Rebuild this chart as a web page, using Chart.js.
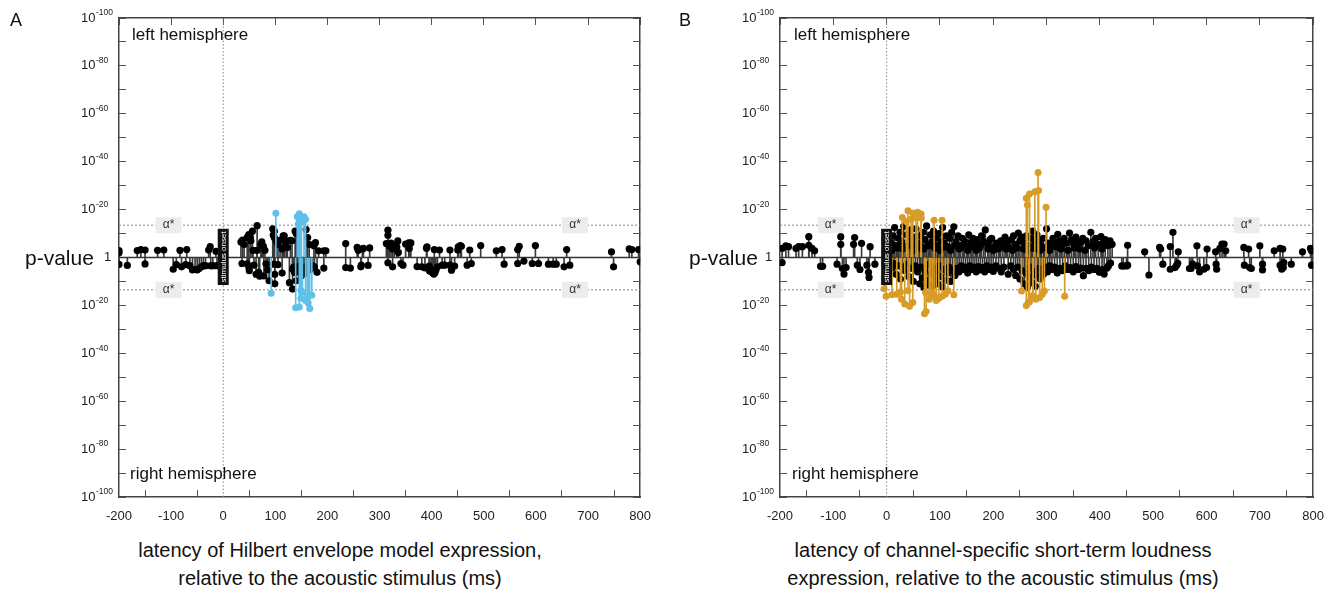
<!DOCTYPE html>
<html>
<head>
<meta charset="utf-8">
<script src="https://cdn.jsdelivr.net/npm/chart.js@4.4.1/dist/chart.umd.min.js"></script>
<style>
  body { margin: 0; background: #fff; font-family: "Liberation Sans", Arial, sans-serif; }
  #wrap { position: relative; width: 1343px; height: 596px; overflow: hidden; }
  canvas { position: absolute; top: 0; }
  .t { position: absolute; color: #111; white-space: nowrap; line-height: 1; }
  .c { transform: translateX(-50%); text-align: center; }
</style>
</head>
<body>
<div id="wrap">
  <canvas id="chartA" width="670" height="530" style="left:0px"></canvas>
  <canvas id="chartB" width="673" height="530" style="left:670px"></canvas>

  <div class="t" style="left:10px;top:11px;font-size:18px">A</div>
  <div class="t" style="left:679px;top:11px;font-size:18px">B</div>

  <div class="t" style="left:132px;top:26px;font-size:17px">left hemisphere</div>
  <div class="t" style="left:130px;top:465px;font-size:17px">right hemisphere</div>
  <div class="t" style="left:794px;top:26px;font-size:17px">left hemisphere</div>
  <div class="t" style="left:792px;top:465px;font-size:17px">right hemisphere</div>

  <div class="t" style="left:25px;top:247px;font-size:21px">p-value</div>
  <div class="t" style="left:689px;top:247px;font-size:21px">p-value</div>

  <div class="t c" style="left:340px;top:540px;font-size:20px">latency of Hilbert envelope model expression,</div>
  <div class="t c" style="left:340px;top:568px;font-size:20px">relative to the acoustic stimulus (ms)</div>
  <div class="t c" style="left:1003px;top:540px;font-size:20px">latency of channel-specific short-term loudness</div>
  <div class="t c" style="left:1003px;top:568px;font-size:20px">expression, relative to the acoustic stimulus (ms)</div>
</div>

<script>
const FONT = '"Liberation Sans", Arial, sans-serif';

// axes: latency in ms, signed -log10(p) (positive = left hemisphere, negative = right)
const X_MIN = -200, X_MAX = 800, Y_LIM = 100;
const ALPHA = 13.5;                 // corrected significance threshold
const ALPHA_LABEL_MS = [-105, 675];
const ONSET_BOX = [-11.5, 12];

// ---- panel A: Hilbert envelope model ----
const aLat = [
  -200,-200,-200,-184,-165,-158,-150,-150,-126,-114,
  -96,-90,-83,-80,-72,-70,-64,-59,-54,-50,
  -46,-42,-38,-34,-28,-25,-24,-20,-14,-12,
  34,37,40,46,49,52,53,56,57,65,
  65,72,74,75,77,80,95,96,98,98,
  102,105,109,113,115,117,118,121,123,129,
  132,138,140,159,162,165,174,177,183,193,
  197,36,46,49,50,59,63,68,70,78,
  82,85,88,97,99,99,105,113,127,133,
  133,135,137,140,143,145,147,150,152,156,
  158,160,163,168,170,175,180,193,138,142,
  148,154,166,172,235,235,244,257,259,264,
  265,267,269,278,281,313,316,316,316,319,
  322,325,325,328,333,335,336,341,345,350,
  356,357,360,372,381,387,390,391,395,396,
  399,402,404,405,408,411,415,420,425,435,
  435,438,444,450,451,455,457,468,473,476,
  494,524,535,539,565,568,565,577,593,599,
  605,624,633,639,654,659,665,745,749,779,
  784,797,800,400,403,406
];
const aLogP = [
  2.9,2,-2.9,-3.3,2.9,3.3,3.1,-2.7,3,3.1,
  -4.9,-3,3,-3.9,-3,3.3,-3.4,-5.2,-5,-5.2,
  -4.6,-3.9,-3.4,-3.4,3.1,4.5,-3.4,-3.4,2.6,-3.4,
  6.5,7.3,5.4,8.4,9.6,8.4,7,11,3,13.3,
  3,5.5,6.5,5,4.7,3,12,9.4,11,8.3,
  6.9,5.5,7.2,3.5,9,9,4.7,6.9,4.2,7.2,
  7,11,10,11.7,8.3,5.5,4.9,6.2,2.8,2.8,
  2.8,-2.5,-2.6,-4,-5.5,-3.2,-7,-6.2,-7.8,-7.7,
  -2.6,-5.2,-9.7,-2.8,-11,-7,-3,-6.5,-10.5,-4.9,
  -13.2,-4,-6.3,-9.7,-6,-3.8,-4.9,-7.6,-4.2,-5.5,
  -4,-6.5,-3.6,-4.2,-4.5,-4,-6.2,-4.4,-4.5,-5,
  -3.5,-4.8,-5,-3.5,5.8,-4.2,-4.4,4.2,3,-3.9,
  -3.2,3.6,3.8,-3.3,4,5.8,11.4,9.3,-2.2,4.7,
  6,3.6,-3.9,5,4.4,6.9,2.1,-2.5,-3.2,5.6,
  6.1,3.8,6.1,-3.8,-3.9,-4.3,3.9,4.4,-3.6,-5.6,
  -5,-6.4,-6.9,3.3,-5.3,-3.9,3.1,-3.2,-3.2,3.1,
  -3.2,-5.3,-3.6,3.1,4.4,5,4.7,-3.2,3.1,-2.5,
  5,2.8,3.3,-2.8,3.3,4.7,-2.5,-1.5,-2.5,5,
  -2.5,-2.8,-2.8,-2.8,-3.9,3.3,-3.2,2.4,-3.9,3.6,
  3.3,3.3,-1.8,-6,-5.5,-6.5
];
const aSigLat = [
  92,101,139,142,144,145,146,146,148,149,
  149,150,152,155,158,158,161,163,166,170
];
const aSigLogP = [
  -14.9,18.5,-21,17,14,17.6,18.3,-20.7,16,-17,
  -13.8,14.7,-14.5,17,16,-18,-16.5,-19,-21.3,-15.8
];

// ---- panel B: channel-specific short-term loudness ----
const bLat = [
  -196,-196,-189,-184,-170,-165,-158,-146,-146,-140,
  -135,-124,-120,-93,-86,-86,-83,-80,-76,-62,
  -60,-55,-50,-47,-37,-34,-33,-31,-22,-3,
  // left hemisphere
  8,12,15,18,22,25,28,32,35,38,
  42,45,48,52,55,58,62,65,68,72,
  75,78,82,85,88,92,95,98,102,105,
  108,112,115,118,122,126,130,134,138,142,
  146,150,154,158,162,166,170,174,178,182,
  185,190,194,197,202,206,210,214,218,222,
  226,230,234,238,242,247,250,254,258,262,
  266,270,274,278,282,286,290,294,300,304,
  308,312,316,321,325,329,333,337,343,347,
  351,355,359,364,368,374,378,383,387,392,
  397,402,406,410,415,419,423,452,484,512,
  514,532,537,547,582,601,617,625,629,633,
  636,670,679,700,727,738,743,780,795,797,
  10,20,30,40,50,60,70,80,90,100,
  110,120,128,136,144,152,160,168,176,190,
  200,212,224,236,244,256,264,272,280,288,
  296,306,318,327,340,352,362,372,390,404,
  // right hemisphere
  5,10,14,18,22,26,30,34,38,42,
  46,50,54,58,62,64,67,70,72,75,
  78,80,83,86,88,91,94,96,99,102,
  105,108,111,114,117,120,124,128,132,136,
  140,144,148,152,156,160,164,168,172,176,
  180,184,188,192,196,200,205,210,215,220,
  228,233,238,242,246,250,254,258,261,264,
  267,270,273,276,279,282,285,288,291,294,
  298,302,306,310,315,320,325,330,335,340,
  345,350,355,360,364,369,374,379,384,389,
  394,399,404,408,413,416,420,441,444,450,
  452,492,518,532,541,544,546,568,571,574,
  583,587,595,600,618,619,671,681,684,705,
  705,738,741,744,745,759,797,798
];
const bLogP = [
  3.8,-2.1,4.9,4.5,3.8,4.5,4.5,8.7,5.1,3.8,
  2.8,-3.7,-3.7,-2.8,8.7,5.5,-4.6,-6.9,-4.2,5.5,
  8.3,-3.2,-5,5.9,-3.2,-6.2,-8.3,4.5,-2.8,7.6,
  // left hemisphere
  6,9,12.5,5,8,10.5,6.5,13,4.5,9.5,
  7,11.5,5.5,8.5,12,6,9,4.5,10.5,7.5,
  13.2,5.5,9.5,6.5,11,8,5,10,7,12.5,
  6,9,4.5,8,10.5,12.8,6.5,9,5,8,
  7,4.5,9.5,6,8,5.5,7.5,4,9,6.5,
  11.5,5,7.5,8,4.5,6,3.5,7,5,8.5,
  6,4,7.5,9,5.5,10.2,7,8.5,6,9,
  5,8,11,6.5,9.5,7,5,8,12,6,
  4.5,8,6.5,9.7,7,5,8,6,10.2,7.5,
  5.5,8.5,6,6.3,8,7,5,10.5,6.5,8,
  5.5,8.7,6,7.5,5,7,5.5,5.1,2.4,4.2,
  3.5,4.6,10.5,2.4,4.9,3.5,2.4,3.8,5.6,5.6,
  2.8,4.2,3.5,4.9,2.8,3.8,3.5,2.4,3.8,2.8,
  3,4,3.5,5,3,4,3.5,5,4,3,
  4.5,3,5,3.5,4.5,3,4.5,3,5,3.5,
  3,4.5,3.5,3,4,3.5,3,4,3.5,3,
  4,3,4.5,3.5,3,4,3.5,3,4,3.5,
  // right hemisphere
  -3,-4.5,-2.5,-7,-3.5,-9,-4,-5.5,-2.8,-8,
  -4.5,-10,-3.5,-6,-11,-4,-8.5,-12.5,-5.5,-9.5,
  -3,-11.5,-7,-12,-4.5,-9,-6,-11,-3.5,-8,
  -12.3,-5,-9.5,-6.5,-4,-10,-5.5,-7.5,-4.5,-6,
  -3.5,-5,-4,-6.5,-3.5,-5,-4,-6,-3.8,-5.2,
  -4.2,-6,-3.5,-5,-4,-5.8,-3.5,-4.5,-6,-4,
  -7,-3.5,-5,-7.5,-4,-9,-5.5,-11,-6.5,-12.5,
  -8,-4,-10.5,-6,-12,-7.5,-4.5,-9,-5.5,-7,
  -4,-6,-3.5,-5,-4,-6.5,-4.5,-5.5,-3.5,-5,
  -4.2,-6,-3.8,-5,-4.4,-7.6,-4.5,-5.5,-4,-5,
  -4.5,-6.2,-5,-6.9,-4.5,-3.5,-2.3,-3.5,-3.6,-3.5,
  -3.2,-7.3,-2.8,-4.9,-4.2,-3.2,-2.4,-4.6,-4.6,-2.8,
  -3.5,-6,-4.9,-4.2,-2.8,-4.9,-3.2,-4.2,-4.6,-2.8,
  -5.2,-3.2,-4.9,-4.2,-2.1,-2.8,-3.2,-3.2
];
const bSigLat = [
  29.5,37,40,46,49,55,58,64.5,65,89,
  104,262,264,268,278,284,285,299,
  -4.6,-1,10,19,26,28,34,40,43,49,
  71,73,74,80,83,86,89,93,98,104,
  110,115,126,253,262,266,268,274,275,280,
  287,292,296,334
];
const bSigLogP = [
  16.7,15,19.5,16,18.6,16.7,18.9,18.2,16.5,15.6,
  15.6,24.7,21.9,26.5,27.5,35.5,28,21,
  -13.1,-16.2,-15.6,-15.3,-14.4,-17.4,-19.4,-13.9,-20.4,-18.8,
  -23.5,-14.6,-22.5,-17.4,-15.3,-16,-15.3,-18,-17,-16.2,
  -15.3,-13.9,-15.6,-14,-20,-18.7,-18.5,-16,-16.3,-17.4,
  -16.7,-15.3,-14,-16.2
];

const pts = (lat, val) => lat.map((x, i) => ({x: x, y: val[i]}));

// y tick labels 10^-n with a real superscript, left aligned as in the figure
const expLabels = {
  id: 'expLabels',
  afterDraw(chart) {
    const {ctx} = chart, y = chart.scales.y;
    const left = y.right - 38;
    ctx.save();
    ctx.fillStyle = '#222';
    ctx.textBaseline = 'middle';
    ctx.textAlign = 'left';
    y.ticks.forEach(t => {
      const v = t.value;
      if (v % 20 !== 0) return;
      const py = y.getPixelForValue(v);
      ctx.font = '13px ' + FONT;
      if (v === 0) { ctx.fillText('1', y.right - 15, py); return; }
      ctx.fillText('10', left, py);
      const w = ctx.measureText('10').width;
      ctx.font = '8.5px ' + FONT;
      ctx.fillText('-' + Math.abs(v), left + w + 0.5, py - 5);
    });
    ctx.restore();
  }
};

// alpha* tags and the stimulus-onset marker, placed through the chart scales
const annotations = {
  id: 'annotations',
  afterDatasetsDraw(chart) {
    const {ctx, scales: {x, y}} = chart;
    ctx.save();
    ctx.textAlign = 'center';
    ctx.textBaseline = 'middle';
    ctx.font = '12px ' + FONT;
    ALPHA_LABEL_MS.forEach(ms => [ALPHA, -ALPHA].forEach(v => {
      const px = x.getPixelForValue(ms), py = y.getPixelForValue(v);
      ctx.fillStyle = '#ececec';
      ctx.fillRect(px - 13, py - 8, 26, 16);
      ctx.fillStyle = '#333';
      ctx.fillText('\u03b1*', px, py);
    }));
    const x0 = x.getPixelForValue(0);
    const yt = y.getPixelForValue(ONSET_BOX[1]), yb = y.getPixelForValue(ONSET_BOX[0]);
    ctx.fillStyle = '#111';
    ctx.fillRect(x0 - 5.5, yt, 11, yb - yt);
    ctx.translate(x0, (yt + yb) / 2);
    ctx.rotate(-Math.PI / 2);
    ctx.fillStyle = '#fff';
    ctx.font = '8px ' + FONT;
    ctx.fillText('stimulus onset', 0, 0.5);
    ctx.restore();
  }
};

const tickGrid = {drawOnChartArea: false, tickLength: -7, tickColor: '#555', lineWidth: 1};
const frame = {color: '#444', width: 1.5};

function makeChart(id, lat, logp, sigLat, sigLogP, sigColor, leftW, rightPad) {
  const black = pts(lat, logp), sig = pts(sigLat, sigLogP);
  const hline = v => [{x: X_MIN, y: v}, {x: X_MAX, y: v}];
  const guide = {type: 'line', pointRadius: 0, borderWidth: 1, borderColor: '#888', borderDash: [2, 2]};
  return new Chart(document.getElementById(id), {
    type: 'scatter',
    data: {
      datasets: [
        {type: 'scatter', data: sig, backgroundColor: sigColor, borderColor: sigColor, pointRadius: 3.5, borderWidth: 0, order: 1},
        {type: 'bar', data: sig, backgroundColor: sigColor, barThickness: 1, grouped: false, order: 2},
        {type: 'scatter', data: black, backgroundColor: '#000', borderColor: '#000', pointRadius: 3.6, borderWidth: 0, order: 3},
        {type: 'bar', data: black, backgroundColor: '#3a3a3a', barThickness: 1, grouped: false, order: 4},
        {type: 'line', data: hline(0), borderColor: '#333', borderWidth: 1.5, pointRadius: 0, order: 5},
        Object.assign({data: hline(ALPHA), order: 6}, guide),
        Object.assign({data: hline(-ALPHA), order: 7}, guide),
        Object.assign({data: [{x: 0, y: -Y_LIM}, {x: 0, y: Y_LIM}], order: 8}, guide, {borderDash: [1.5, 2]})
      ]
    },
    options: {
      responsive: false,
      animation: false,
      layout: {padding: {top: 18, left: 0, right: rightPad, bottom: 0}},
      plugins: {legend: {display: false}, tooltip: {enabled: false}},
      scales: {
        x: {
          type: 'linear', position: 'bottom', min: X_MIN, max: X_MAX, offset: false,
          afterFit: s => { s.height = 33; },
          ticks: {stepSize: 100, autoSkip: false, padding: 19, color: '#222', font: {family: FONT, size: 13}},
          grid: tickGrid, border: frame
        },
        xTop: {
          type: 'linear', axis: 'x', position: 'top', min: X_MIN, max: X_MAX, offset: false,
          afterFit: s => { s.height = 0; },
          ticks: {display: false, stepSize: 100},
          grid: tickGrid, border: frame
        },
        y: {
          type: 'linear', position: 'left', min: -Y_LIM, max: Y_LIM,
          afterFit: s => { s.width = leftW; },
          ticks: {display: false, stepSize: 10, autoSkip: false},
          grid: tickGrid, border: frame
        },
        yRight: {
          type: 'linear', axis: 'y', position: 'right', min: -Y_LIM, max: Y_LIM,
          afterFit: s => { s.width = 0; },
          ticks: {display: false, stepSize: 10},
          grid: tickGrid, border: frame
        }
      }
    },
    plugins: [annotations, expLabels]
  });
}

makeChart('chartA', aLat, aLogP, aSigLat, aSigLogP, '#5fc0e8', 119, 13);
makeChart('chartB', bLat, bLogP, bSigLat, bSigLogP, '#d89c28', 110, 25);
</script>
</body>
</html>
